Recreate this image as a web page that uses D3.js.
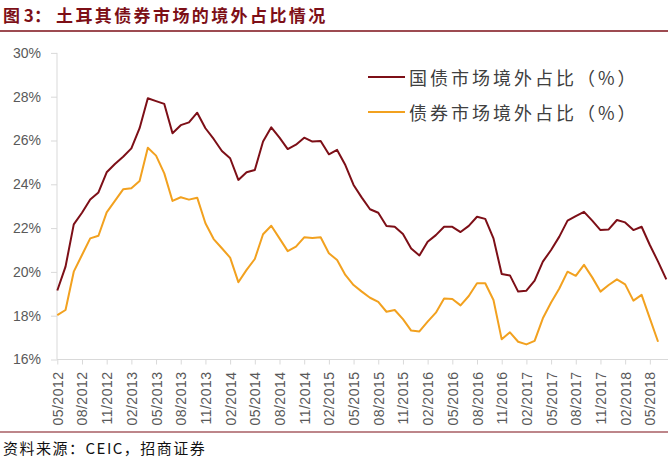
<!DOCTYPE html>
<html>
<head>
<meta charset="utf-8">
<script src="https://cdn.jsdelivr.net/npm/d3@7"></script>
<style>
  html, body { margin: 0; padding: 0; background: #fff; }
  svg { display: block; }
</style>
</head>
<body>
<svg id="chart" width="668" height="458"></svg>
<script>
// ---- data ----
const titlePrefix = "图 3：";
const titleMain = "土耳其债券市场的境外占比情况";
const sourceText = "资料来源：CEIC，招商证券";
const seriesNames = ["国债市场境外占比（%）", "债券市场境外占比（%）"];

// monthly categories 05/2012 .. 07/2018
const months = [];
for (let y = 2012, m = 5; !(y === 2018 && m === 8); ) {
  months.push(String(m).padStart(2, "0") + "/" + y);
  m++; if (m > 12) { m = 1; y++; }
}
const tickLabels = ["05/2012","08/2012","11/2012","02/2013","05/2013","08/2013","11/2013",
  "02/2014","05/2014","08/2014","11/2014","02/2015","05/2015","08/2015","11/2015",
  "02/2016","05/2016","08/2016","11/2016","02/2017","05/2017","08/2017","11/2017",
  "02/2018","05/2018"];
const yTicks = [16, 18, 20, 22, 24, 26, 28, 30];

const govtShare = [19.15,20.24,22.17,22.70,23.31,23.63,24.55,24.93,25.26,25.64,
  26.56,27.93,27.80,27.67,26.33,26.70,26.83,27.27,26.56,26.07,
  25.52,25.19,24.20,24.55,24.65,25.95,26.60,26.13,25.61,25.81,
  26.13,25.95,25.98,25.37,25.57,24.88,23.97,23.39,22.86,22.70,
  22.10,22.06,21.73,21.07,20.75,21.38,21.68,22.06,22.06,21.82,
  22.10,22.52,22.42,21.53,19.90,19.84,19.10,19.14,19.60,20.47,
  21.00,21.61,22.34,22.55,22.74,22.34,21.91,21.94,22.37,22.26,
  21.91,22.06,21.23,20.47,19.66];
const bondShare = [18.03,18.26,20.01,20.77,21.53,21.65,22.72,23.24,23.77,23.82,
  24.15,25.67,25.31,24.50,23.24,23.41,23.30,23.39,22.22,21.50,
  21.08,20.65,19.53,20.09,20.59,21.72,22.11,21.53,20.95,21.15,
  21.58,21.55,21.58,20.85,20.54,19.86,19.40,19.10,18.82,18.63,
  18.18,18.26,17.84,17.32,17.28,17.73,18.14,18.78,18.76,18.47,
  18.90,19.48,19.48,18.72,16.92,17.24,16.81,16.69,16.85,17.88,
  18.60,19.24,20.01,19.82,20.32,19.75,19.10,19.40,19.66,19.43,
  18.69,18.95,17.88,16.81,null];

// ---- drawing ----
const svg = d3.select("#chart");
const C_RED = "#7d0f17", C_YEL = "#f2a11f", C_AX = "#d9d9d9", C_TXT = "#595959";
const cjk = "'Noto Sans CJK SC', 'Noto Sans', sans-serif";
const latin = "'Liberation Sans', Arial, sans-serif";

const x = d3.scalePoint().domain(months).range([57.3, 666.3]);
const y = d3.scaleLinear().domain([16, 30]).range([359.5, 52.9]);

// title
svg.append("text").attr("x", 3).attr("y", 14).attr("dominant-baseline", "central")
  .attr("font-family", cjk).attr("font-weight", 700).attr("font-size", 17)
  .attr("fill", C_RED).text(titlePrefix);
svg.append("text").attr("x", 56).attr("y", 14).attr("dominant-baseline", "central")
  .attr("font-family", cjk).attr("font-weight", 700).attr("font-size", 17)
  .attr("letter-spacing", "2.4px").attr("fill", C_RED).text(titleMain);
svg.append("line").attr("x1", 0).attr("x2", 668).attr("y1", 31).attr("y2", 31)
  .attr("stroke", C_RED).attr("stroke-width", 1.5);

// y axis
const yAxis = svg.append("g").attr("transform", "translate(57,0)")
  .call(d3.axisLeft(y).tickValues(yTicks).tickFormat(d => d + "%").tickSize(6).tickPadding(10));
yAxis.select(".domain").attr("stroke", C_AX).attr("d", `M0,${y(30)}V${y(16)}`);
yAxis.selectAll(".tick line").attr("stroke", C_AX);
yAxis.selectAll(".tick text").attr("font-family", latin).attr("font-size", 14)
  .attr("fill", C_TXT).attr("x", -16);

// x axis
const xAxis = svg.append("g").attr("transform", `translate(0,${y(16)})`)
  .call(d3.axisBottom(x).tickValues(tickLabels).tickSize(5).tickSizeOuter(0));
xAxis.select(".domain").attr("stroke", C_AX).attr("d", `M57,0H668`);
xAxis.selectAll(".tick line").attr("stroke", C_AX);
xAxis.selectAll(".tick text")
  .attr("font-family", latin).attr("font-size", 14).attr("fill", C_TXT)
  .attr("letter-spacing", "0.5px")
  .attr("text-anchor", "end").attr("dominant-baseline", "central")
  .attr("transform", "rotate(-90)").attr("x", -12).attr("y", 0).attr("dy", null);

// lines
const lineGen = d3.line().defined(d => d.v != null).x(d => x(d.m)).y(d => y(d.v));
const series = [
  { vals: govtShare, color: C_RED },
  { vals: bondShare, color: C_YEL }
];
series.forEach(s => {
  svg.append("path")
    .datum(months.map((m, i) => ({ m, v: s.vals[i] })))
    .attr("d", lineGen).attr("fill", "none")
    .attr("stroke", s.color).attr("stroke-width", 2).attr("stroke-linejoin", "round");
});

// legend
seriesNames.forEach((name, i) => {
  const ly = 77 + i * 35;
  svg.append("line").attr("x1", 368).attr("x2", 405).attr("y1", ly).attr("y2", ly)
    .attr("stroke", series[i].color).attr("stroke-width", 2);
  svg.append("text").attr("x", 409).attr("y", ly).attr("dominant-baseline", "central")
    .attr("font-family", cjk).attr("font-size", 18).attr("letter-spacing", "3px")
    .attr("fill", "#404040").text(name);
});

// footer
svg.append("line").attr("x1", 0).attr("x2", 668).attr("y1", 432).attr("y2", 432)
  .attr("stroke", C_RED).attr("stroke-width", 1.2);
svg.append("text").attr("x", 3).attr("y", 447.5).attr("dominant-baseline", "central")
  .attr("font-family", cjk).attr("font-size", 15).attr("letter-spacing", "1.5px")
  .attr("fill", "#111").text(sourceText);
</script>
</body>
</html>
